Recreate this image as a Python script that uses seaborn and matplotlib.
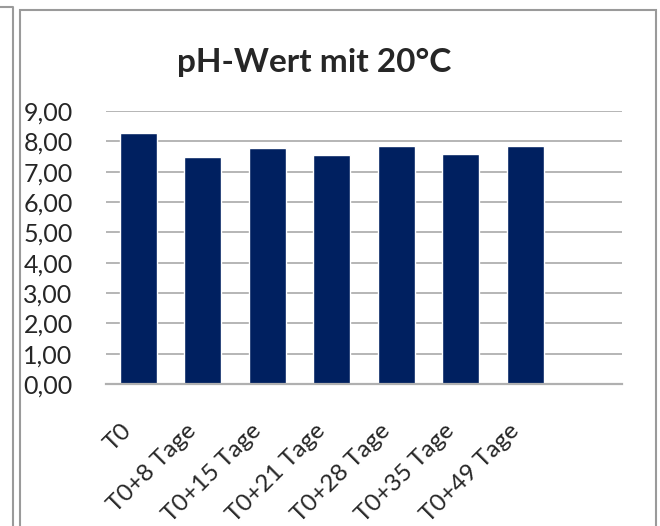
import numpy as np
import pandas as pd
import matplotlib
matplotlib.use("Agg")
import matplotlib.pyplot as plt
import matplotlib.transforms as mtransforms
import seaborn as sns
from matplotlib.patches import Rectangle
from matplotlib.lines import Line2D

# data
tage = ["T0", "T0+8 Tage", "T0+15 Tage", "T0+21 Tage", "T0+28 Tage", "T0+35 Tage", "T0+49 Tage"]
ph = [8.26, 7.48, 7.79, 7.56, 7.86, 7.59, 7.86]
yticks = [0, 1, 2, 3, 4, 5, 6, 7, 8, 9]

df = pd.DataFrame({"Tag": tage, "pH": ph})

sns.set_style("white")
plt.rcParams["font.family"] = ["Lato", "DejaVu Sans"]

fig = plt.figure(figsize=(6.6, 5.26), dpi=100)
ax = fig.add_axes([106 / 660, 1 - 384 / 526, (622 - 106) / 660, (384 - 111) / 526])

sns.barplot(data=df, x="Tag", y="pH", color="#002060", saturation=1, width=0.57, ax=ax)

ax.set_xlim(-0.5, 7.5)
ax.set_ylim(0, 9)
ax.set_yticks(yticks)
ax.set_yticklabels([f"{v:.2f}".replace(".", ",") for v in yticks], fontsize=18)
ax.set_xticks(range(len(tage)))
ax.set_xticklabels(tage, fontsize=17.5, rotation=45, ha="right", rotation_mode="anchor")
ax.tick_params(axis="y", length=0, pad=24)
ax.tick_params(axis="x", length=0, pad=8)
# move rotated labels down-left like in the original
shift = mtransforms.ScaledTranslation(-17 / 100, -25 / 100, fig.dpi_scale_trans)
for lab in ax.get_xticklabels():
    lab.set_transform(lab.get_transform() + shift)
ax.set_xlabel("")
ax.set_ylabel("")
ax.yaxis.grid(True, color="#b0b0b0", linewidth=1.3)
ax.set_axisbelow(True)
for s in ["top", "right", "left"]:
    ax.spines[s].set_visible(False)
ax.spines["bottom"].set_color("#b0b0b0")
ax.spines["bottom"].set_linewidth(1.6)

fig.text(314 / 660, 1 - 62 / 526, "pH-Wert mit 20°C", fontsize=24, fontweight="bold",
         ha="center", va="center")

# chart frames
fig.add_artist(Rectangle((20 / 660, -0.05), (656 - 20) / 660, 1.05 - 10 / 526,
                         transform=fig.transFigure, fill=False, edgecolor="#9a9a9a", linewidth=1.5))
fig.add_artist(Line2D([0, 13 / 660, 13 / 660], [1 - 7 / 526, 1 - 7 / 526, 0],
                      transform=fig.transFigure, color="#9a9a9a", linewidth=1.5))

fig.savefig("out.png", dpi=100)
